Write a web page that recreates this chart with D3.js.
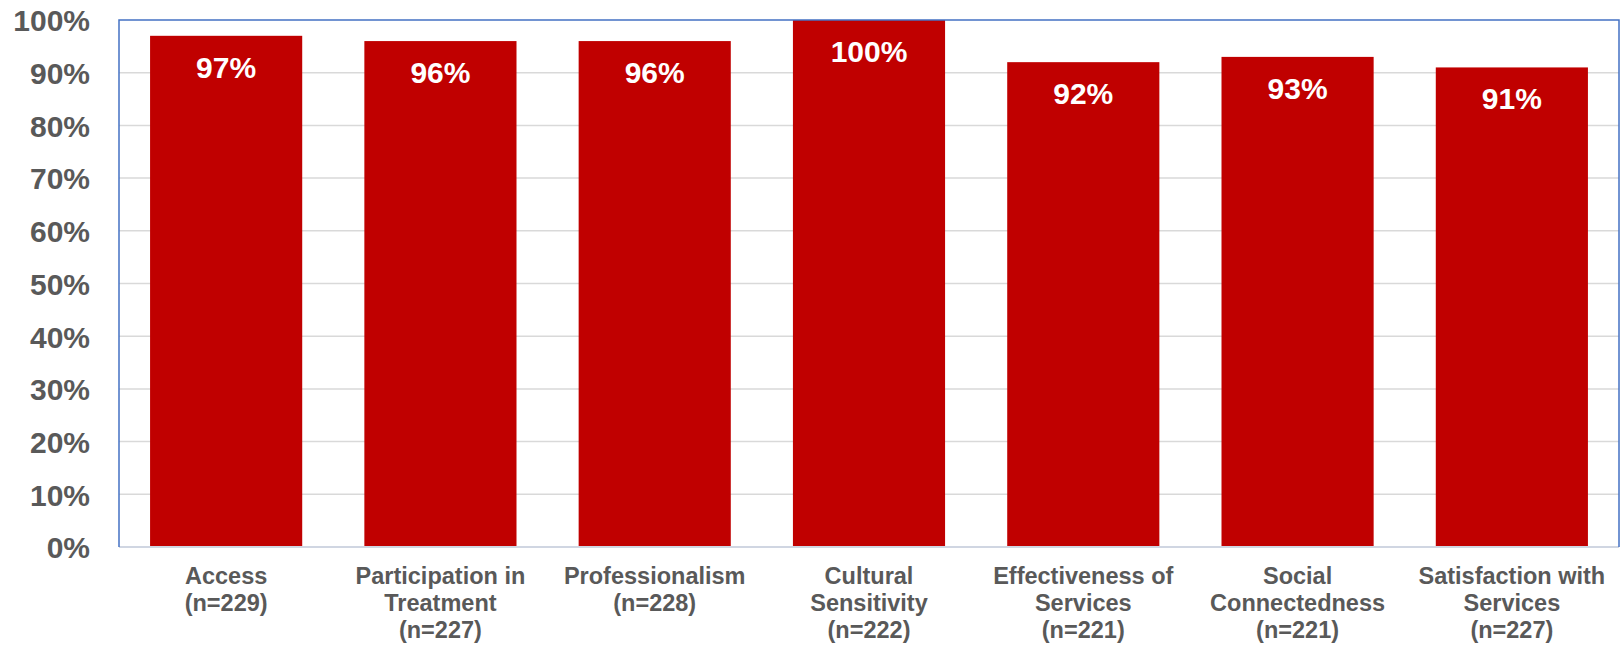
<!DOCTYPE html>
<html>
<head>
<meta charset="utf-8">
<script src="https://cdn.jsdelivr.net/npm/d3@7"></script>
<style>
  body { margin: 0; background: #fff; }
  svg text { font-family: "Liberation Sans", Arial, sans-serif; font-weight: bold; }
</style>
</head>
<body>
<div id="chart"></div>
<script>
// category labels (split into lines) and values
var categories = ["Access", "Participation", "Professionalism", "Cultural", "Effectiveness", "Social", "Satisfaction"]
var labelLines = [
    ["Access", "(n=229)"],
    ["Participation in", "Treatment", "(n=227)"],
    ["Professionalism", "(n=228)"],
    ["Cultural", "Sensitivity", "(n=222)"],
    ["Effectiveness of", "Services", "(n=221)"],
    ["Social", "Connectedness", "(n=221)"],
    ["Satisfaction with", "Services", "(n=227)"]
]
var values = [97, 96, 96, 100, 92, 93, 91]
var yTicks = [0, 10, 20, 30, 40, 50, 60, 70, 80, 90, 100]

var W = 1624, H = 645
var m = { top: 20, right: 5, bottom: 98, left: 119 } // margins
var w = W - m.left - m.right
var h = H - m.top - m.bottom

var svg = d3.select("#chart").append("svg")
    .attr("width", W)
    .attr("height", H)

var graph = svg.append("g")
    .attr("transform", "translate(" + m.left + "," + m.top + ")")

var x = d3.scaleBand().domain(categories).range([0, w])
    .paddingInner(0.29).paddingOuter(0.145)
var y = d3.scaleLinear().domain([0, 100]).range([h, 0])

// gridlines
graph.selectAll(".grid").data(yTicks.slice(1, -1)).enter().append("line")
    .attr("x1", 0).attr("x2", w)
    .attr("y1", function (d) { return y(d) }).attr("y2", function (d) { return y(d) })
    .attr("stroke", "#d9d9d9").attr("stroke-width", 1.5)

// bars
graph.selectAll(".bar").data(values).enter().append("rect")
    .attr("x", function (d, i) { return x(categories[i]) })
    .attr("y", function (d) { return y(d) })
    .attr("width", x.bandwidth())
    .attr("height", function (d) { return h - y(d) })
    .attr("fill", "#c00000")

// value labels inside bars
graph.selectAll(".val").data(values).enter().append("text")
    .attr("x", function (d, i) { return x(categories[i]) + x.bandwidth() / 2 })
    .attr("y", function (d) { return y(d) + 42 })
    .attr("text-anchor", "middle")
    .attr("fill", "#fff")
    .style("font-size", "30px")
    .text(function (d) { return d + "%" })

// y axis labels
var yAxis = d3.axisLeft(y).tickValues(yTicks).tickSize(0).tickPadding(29)
    .tickFormat(function (d) { return d + "%" })
var gy = graph.append("g").call(yAxis)
gy.select(".domain").remove()
gy.selectAll("text").attr("fill", "#595959").style("font-size", "30px")
    .attr("dy", "0.36em")

// x axis labels
var gx = graph.append("g").attr("transform", "translate(0," + h + ")")
categories.forEach(function (c, i) {
    var t = gx.append("text")
        .attr("x", x(c) + x.bandwidth() / 2)
        .attr("y", 37)
        .attr("text-anchor", "middle")
        .attr("fill", "#595959")
        .style("font-size", "23.5px")
    labelLines[i].forEach(function (line, j) {
        t.append("tspan").attr("x", x(c) + x.bandwidth() / 2)
            .attr("dy", j === 0 ? 0 : 27).text(line)
    })
})

// bottom axis line and plot border
graph.append("line").attr("x1", 0).attr("x2", w).attr("y1", h).attr("y2", h)
    .attr("stroke", "#d0d6e2").attr("stroke-width", 2)
graph.append("path")
    .attr("d", "M0," + h + "V0H" + w + "V" + h)
    .attr("fill", "none").attr("stroke", "#4472c4").attr("stroke-width", 1.5)
</script>
</body>
</html>
